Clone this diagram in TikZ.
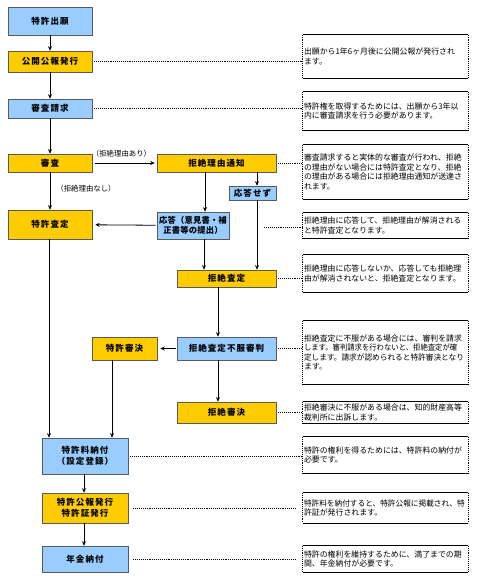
\documentclass[tikz,border=0pt]{standalone}
\usepackage{fontspec}
\setmainfont{Noto Sans CJK JP}
\newfontfamily\boxfont{Noto Sans CJK JP}[LetterSpace=12]
\newfontfamily\boxfonttight{Noto Sans CJK JP}[LetterSpace=2]
\usetikzlibrary{arrows.meta}
\definecolor{bxblue}{RGB}{153,204,255}
\definecolor{bxyellow}{RGB}{255,204,0}
\definecolor{bxline}{RGB}{90,90,90}
\newcommand\sqzline[2]{\scalebox{#1}[1]{#2}}
\begin{document}
\begin{tikzpicture}[x=1pt,y=-1pt,
  bx/.style={draw=bxline, line width=0.6pt, inner sep=0pt, align=center,
    font=\boxfont\bfseries\fontsize{8.5}{10.5}\selectfont},
  bluebox/.style={bx, fill=bxblue},
  yellowbox/.style={bx, fill=bxyellow},
  notebox/.style={minimum width=165pt, text width=163pt, inner xsep=1pt, inner ysep=0pt,
    align=left, font=\fontsize{7.9}{9.4}\selectfont},
  arr/.style={line width=0.8pt, -{Stealth[length=4.5pt,width=4pt]}},
  dotline/.style={line width=0.9pt, densely dotted},
  lbl/.style={font=\fontsize{7.4}{8}\selectfont, inner sep=0pt}
]
\useasboundingbox (0,0) rectangle (480,585);

% main boxes
\node[bluebox, minimum width=84pt, minimum height=28pt] (shutsugan) at (50,21) {特許出願};
\node[yellowbox, minimum width=84pt, minimum height=21pt] (kokai) at (50,61.5) {公開公報発行};
\node[bluebox, minimum width=84pt, minimum height=19pt] (seikyu) at (50,108.5) {審査請求};
\node[yellowbox, minimum width=84pt, minimum height=18pt] (shinsa) at (50,163) {審査};
\node[yellowbox, minimum width=119pt, minimum height=18pt] (tsuchi) at (216.5,163) {拒絶理由通知};
\node[bluebox, minimum width=47pt, minimum height=14pt] (sezu) at (252.5,193) {応答せず};
\node[yellowbox, minimum width=84pt, minimum height=29pt] (tsatei) at (50,224.5) {特許査定};
\node[bluebox, minimum width=72pt, minimum height=27pt, font=\boxfonttight\bfseries\fontsize{8.3}{10.5}\selectfont] (outou) at (193,225.5) {応答（意見書・補\\正書等の提出）};
\node[yellowbox, minimum width=99pt, minimum height=17pt] (ksatei) at (226.5,278.5) {拒絶査定};
\node[bluebox, minimum width=99pt, minimum height=23pt] (fufuku) at (226.5,348.5) {拒絶査定不服審判};
\node[yellowbox, minimum width=65pt, minimum height=23pt] (tshinketsu) at (124.5,348.5) {特許審決};
\node[yellowbox, minimum width=99pt, minimum height=21pt] (kshinketsu) at (226.5,412.5) {拒絶審決};
\node[bluebox, minimum width=86pt, minimum height=36pt] (ryo) at (85,456) {特許料納付\\（設定登録）};
\node[yellowbox, minimum width=86pt, minimum height=30pt] (koho) at (85,508) {特許公報発行\\特許証発行};
\node[bluebox, minimum width=86pt, minimum height=26pt] (nenkin) at (85,559) {年金納付};

% notes
\node[notebox, minimum height=43pt] (n1) at (385.5,56.5) {出願から1年6ヶ月後に公開公報が発行され\\ます。};
\node[notebox, minimum height=38pt] (n2) at (385.5,111) {特許権を取得するためには、出願から3年以\\内に審査請求を行う必要があります。};
\node[notebox, minimum height=54pt] (n3) at (385.5,172) {審査請求すると実体的な審査が行われ、拒絶\\の理由がない場合には特許査定となり、拒絶\\の理由がある場合には拒絶理由通知が送達さ\\れます。};
\node[notebox, minimum height=25pt] (n4) at (385.5,225.5) {拒絶理由に応答して、拒絶理由が解消される\\と特許査定となります。};
\node[notebox, minimum height=37pt] (n5) at (385.5,273.5) {拒絶理由に応答しないか、応答しても拒絶理\\由が解消されないと、拒絶査定となります。};
\node[notebox, minimum height=63pt] (n6) at (385.5,352.5) {拒絶査定に不服がある場合には、審判を請求\\\sqzline{0.93}{します。審判請求を行わないと、拒絶査定が確}\\\sqzline{0.97}{定します。請求が認められると特許審決となり}\\ます。};
\node[notebox, minimum height=21pt] (n7) at (385.5,412.5) {拒絶審決に不服がある場合は、知的財産高等\\裁判所に出訴します。};
\node[notebox, minimum height=36pt] (n8) at (385.5,455) {特許の権利を得るためには、特許料の納付が\\必要です。};
\node[notebox, minimum height=30pt] (n9) at (385.5,508) {\sqzline{0.97}{特許料を納付すると、特許公報に掲載され、特}\\許証が発行されます。};
\node[notebox, minimum height=26pt] (n10) at (385.5,559) {特許の権利を維持するために、満了までの期\\間、年金納付が必要です。};

% note borders: solid top/bottom, dotted sides
\foreach \n in {n1,n2,n3,n4,n5,n6,n7,n8,n9,n10}{
  \draw[line width=0.9pt] (\n.north west) -- (\n.north east);
  \draw[line width=0.7pt] (\n.south west) -- (\n.south east);
  \draw[line width=0.9pt, densely dotted] (\n.north west) -- (\n.south west);
  \draw[line width=0.9pt, densely dotted] (\n.north east) -- (\n.south east);
}

% arrows
\draw[arr] (shutsugan) -- (kokai);
\draw[arr] (kokai) -- (seikyu);
\draw[arr] (seikyu) -- (shinsa);
\draw[arr] (shinsa) -- node[lbl, right=6pt, pos=0.45] {（拒絶理由なし）} (tsatei);
\draw[arr, shorten <=3pt, shorten >=2pt] (shinsa) -- node[lbl, above=5pt, xshift=-3pt] {（拒絶理由あり）} (tsuchi);
\draw[arr] ([xshift=12pt]outou.north |- tsuchi.south) -- ([xshift=12pt]outou.north);
\draw[arr] ([xshift=4.5pt]sezu.north |- tsuchi.south) -- ([xshift=4.5pt]sezu.north);
\draw[arr, shorten <=1pt, shorten >=3pt] (outou) -- (tsatei);
\draw[arr] ([xshift=11pt]outou.south) -- ([xshift=11pt]outou.south |- ksatei.north);
\draw[arr] ([xshift=4.5pt]sezu.south) -- ([xshift=4.5pt]sezu.south |- ksatei.north);
\draw[arr] ([xshift=-8.5pt]ksatei.south) -- ([xshift=-8.5pt]fufuku.north);
\draw[arr, shorten <=1pt, shorten >=3pt] (fufuku) -- (tshinketsu);
\draw[arr] ([xshift=-8.5pt]fufuku.south) -- ([xshift=-8.5pt]kshinketsu.north);
\draw[arr] ([xshift=-1pt]tsatei.south) -- ([xshift=-1pt]tsatei.south |- ryo.north);
\draw[arr] ([xshift=-12.5pt]tshinketsu.south) -- ([xshift=-12.5pt]tshinketsu.south |- ryo.north);
\draw[arr] ([xshift=-1pt]ryo.south) -- ([xshift=-1pt]koho.north);
\draw[arr] ([xshift=-1pt]koho.south) -- ([xshift=-1pt]nenkin.north);

% dotted connectors
\draw[dotline, shorten <=2pt] (kokai.east) -- (kokai.east -| n1.west);
\draw[dotline, shorten <=2pt] (seikyu.east) -- (seikyu.east -| n2.west);
\draw[dotline, shorten <=2pt] (tsuchi.east) -- (tsuchi.east -| n3.west);
\draw[dotline] ([xshift=35pt,yshift=-1.5pt]outou.east) -- ([yshift=-1.5pt]outou.east -| n4.west);
\draw[dotline, shorten <=2pt] (ksatei.east) -- (ksatei.east -| n5.west);
\draw[dotline, shorten <=2pt] (fufuku.east) -- (fufuku.east -| n6.west);
\draw[dotline, shorten <=2pt] (kshinketsu.east) -- (kshinketsu.east -| n7.west);
\draw[dotline, shorten <=2pt] (ryo.east) -- (ryo.east -| n8.west);
\draw[dotline, shorten <=5pt, shorten >=7pt] (koho.east) -- (koho.east -| n9.west);
\draw[dotline, shorten <=5pt, shorten >=7pt] (nenkin.east) -- (nenkin.east -| n10.west);
\end{tikzpicture}
\end{document}
